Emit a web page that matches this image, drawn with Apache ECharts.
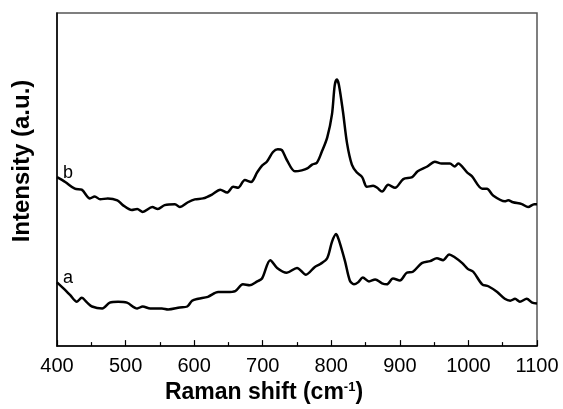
<!DOCTYPE html>
<html><head><meta charset="utf-8">
<script src="https://cdn.jsdelivr.net/npm/echarts@6/dist/echarts.min.js"></script>
<style>html,body{margin:0;padding:0;background:#fff}#c{width:563px;height:409px}</style>
</head><body><div id="c"></div>
<script>
// Raman shift (cm-1) and intensity (a.u.) for each spectrum
const shiftB = [400,412,426,436,448,455,463,474,488,496,509,517,525,539,547,557,572,579,591,601,613,626,638,648,657,664,674,683,692,699,706,715,722,728,735,747,757,765,772,779,786,794,801,805,808,811,817,823,830,837,845,852,861,867,874,883,893,905,918,926,940,951,961,973,980,985,998,1005,1020,1027,1036,1053,1058,1065,1078,1087,1096,1100];
const intensB = [175,170,163,162,153,155,152,153,151,146,141,142,139,144,142,146,147,144,149,152,153,157,162,159,165,164,172,170,180,187,191,201,204,203,193,181,182,184,188,190,201,216,240,270,276,271,243,210,188,180,175,165,166,164,160,167,164,173,175,181,186,191,189,189,186,189,180,176,163,163,156,150,151,149,147,144,147,147];
const shiftA = [400,409,419,429,436,444,451,466,477,489,502,517,525,536,553,562,579,590,597,606,620,635,648,660,671,681,692,699,711,721,735,750,763,776,784,794,801,807,811,820,827,833,839,846,855,864,874,881,890,900,910,919,932,944,954,963,972,980,991,999,1007,1020,1029,1042,1053,1061,1068,1075,1085,1093,1100];
const intensA = [66,60,53,46,50,45,41,39,45,46,45,39,41,39,39,38,40,41,47,49,51,56,56,57,64,63,67,70,89,81,76,81,74,82,85,91,108,116,110,88,68,64,66,71,67,69,65,64,70,68,76,77,86,88,91,89,95,92,86,80,77,64,62,56,49,47,49,46,49,45,44];
const xTicks = [400,500,600,700,800,900,1000,1100];
const seriesNames = ['a','b'];

const chart = echarts.init(document.getElementById('c'), null, {renderer:'canvas'});
const zip = (xs, ys) => xs.map((x,i)=>[x, ys[i]]);
const FONT = '"Liberation Sans", Arial, sans-serif';
chart.setOption({
  animation:false,
  backgroundColor:'#fff',
  grid:{left:57,right:26,top:13,bottom:51,show:true,borderColor:'#555',borderWidth:1.5},
  xAxis:{type:'value',min:xTicks[0],max:xTicks[xTicks.length-1],interval:100,
    axisLine:{show:true,onZero:false,lineStyle:{color:'#000',width:1.5}},
    axisTick:{show:true,inside:true,length:6,lineStyle:{color:'#000',width:1.2}},
    minorTick:{show:true,splitNumber:2,length:4,lineStyle:{color:'#000',width:1.2}},
    splitLine:{show:false},
    axisLabel:{color:'#000',fontSize:20,fontFamily:FONT,margin:10,
      formatter:v=>xTicks.includes(v)?String(v):''},
    name:'{t|Raman shift (cm}{s|-1}{t|)}',nameLocation:'middle',nameGap:30,
    nameTextStyle:{padding:[0,66,0,0],rich:{
      t:{fontSize:23,fontWeight:'bold',fontFamily:FONT,color:'#000'},
      s:{fontSize:13,fontWeight:'bold',fontFamily:FONT,color:'#000',verticalAlign:'top',padding:[0,0,10,0]}
    }}
  },
  yAxis:{type:'value',min:0,max:345,
    axisLine:{show:true,onZero:false,lineStyle:{color:'#000',width:1.5}},
    axisTick:{show:false},axisLabel:{show:false},splitLine:{show:false}
  },
  series:[
    {name:seriesNames[0],type:'line',smooth:0.3,showSymbol:false,data:zip(shiftA,intensA),
     lineStyle:{color:'#000',width:2.5}},
    {name:seriesNames[1],type:'line',smooth:0.3,showSymbol:false,data:zip(shiftB,intensB),
     lineStyle:{color:'#000',width:2.5}}
  ]
});
// curve labels placed just right of each curve start
const pa = chart.convertToPixel({gridIndex:0},[shiftA[0],intensA[0]]);
const pb = chart.convertToPixel({gridIndex:0},[shiftB[0],intensB[0]]);
chart.setOption({graphic:[
  {type:'text',left:pa[0]+6,top:pa[1]-13,style:{text:seriesNames[0],font:'18px '+FONT,fill:'#000'}},
  {type:'text',left:pb[0]+6,top:pb[1]-13,style:{text:seriesNames[1],font:'18px '+FONT,fill:'#000'}},
  {type:'text',x:22,y:161,rotation:Math.PI/2,
   style:{text:'Intensity (a.u.)',font:'bold 24px '+FONT,fill:'#000',align:'center',verticalAlign:'middle'}}
]});
</script></body></html>
